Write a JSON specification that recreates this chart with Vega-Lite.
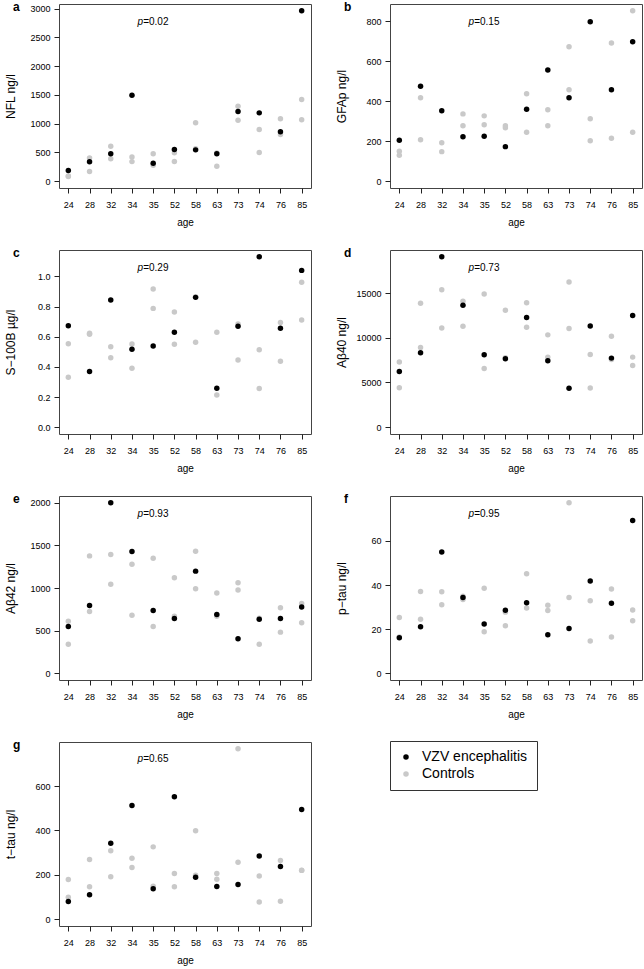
{
  "$schema": "https://vega.github.io/schema/vega-lite/v6.json",
  "padding": {"left": 3, "top": 0, "right": 0, "bottom": 0},
  "background": "white",
  "datasets": {
    "pts": [
      {"m":"a","age":"24","g":"Controls","v":80},{"m":"a","age":"24","g":"Controls","v":92},
      {"m":"a","age":"28","g":"Controls","v":405},{"m":"a","age":"28","g":"Controls","v":168},
      {"m":"a","age":"32","g":"Controls","v":608},{"m":"a","age":"32","g":"Controls","v":390},
      {"m":"a","age":"34","g":"Controls","v":420},{"m":"a","age":"34","g":"Controls","v":340},
      {"m":"a","age":"35","g":"Controls","v":475},{"m":"a","age":"35","g":"Controls","v":278},
      {"m":"a","age":"52","g":"Controls","v":492},{"m":"a","age":"52","g":"Controls","v":342},
      {"m":"a","age":"58","g":"Controls","v":1014},{"m":"a","age":"58","g":"Controls","v":562},
      {"m":"a","age":"63","g":"Controls","v":261},{"m":"a","age":"63","g":"Controls","v":492},
      {"m":"a","age":"73","g":"Controls","v":1303},{"m":"a","age":"73","g":"Controls","v":1060},
      {"m":"a","age":"74","g":"Controls","v":898},{"m":"a","age":"74","g":"Controls","v":498},
      {"m":"a","age":"76","g":"Controls","v":1083},{"m":"a","age":"76","g":"Controls","v":811},
      {"m":"a","age":"85","g":"Controls","v":1419},{"m":"a","age":"85","g":"Controls","v":1066},
      {"m":"a","age":"24","g":"VZV encephalitis","v":185},{"m":"a","age":"28","g":"VZV encephalitis","v":336},
      {"m":"a","age":"32","g":"VZV encephalitis","v":475},{"m":"a","age":"34","g":"VZV encephalitis","v":1494},
      {"m":"a","age":"35","g":"VZV encephalitis","v":313},{"m":"a","age":"52","g":"VZV encephalitis","v":550},
      {"m":"a","age":"58","g":"VZV encephalitis","v":544},{"m":"a","age":"63","g":"VZV encephalitis","v":475},
      {"m":"a","age":"73","g":"VZV encephalitis","v":1210},{"m":"a","age":"74","g":"VZV encephalitis","v":1187},
      {"m":"a","age":"76","g":"VZV encephalitis","v":857},{"m":"a","age":"85","g":"VZV encephalitis","v":2960},

      {"m":"b","age":"24","g":"Controls","v":150},{"m":"b","age":"24","g":"Controls","v":130},
      {"m":"b","age":"28","g":"Controls","v":418},{"m":"b","age":"28","g":"Controls","v":208},
      {"m":"b","age":"32","g":"Controls","v":192},{"m":"b","age":"32","g":"Controls","v":148},
      {"m":"b","age":"34","g":"Controls","v":337},{"m":"b","age":"34","g":"Controls","v":277},
      {"m":"b","age":"35","g":"Controls","v":327},{"m":"b","age":"35","g":"Controls","v":282},
      {"m":"b","age":"52","g":"Controls","v":267},{"m":"b","age":"52","g":"Controls","v":277},
      {"m":"b","age":"58","g":"Controls","v":438},{"m":"b","age":"58","g":"Controls","v":245},
      {"m":"b","age":"63","g":"Controls","v":358},{"m":"b","age":"63","g":"Controls","v":277},
      {"m":"b","age":"73","g":"Controls","v":673},{"m":"b","age":"73","g":"Controls","v":458},
      {"m":"b","age":"74","g":"Controls","v":313},{"m":"b","age":"74","g":"Controls","v":203},
      {"m":"b","age":"76","g":"Controls","v":692},{"m":"b","age":"76","g":"Controls","v":215},
      {"m":"b","age":"85","g":"Controls","v":853},{"m":"b","age":"85","g":"Controls","v":245},
      {"m":"b","age":"24","g":"VZV encephalitis","v":205},{"m":"b","age":"28","g":"VZV encephalitis","v":475},
      {"m":"b","age":"32","g":"VZV encephalitis","v":353},{"m":"b","age":"34","g":"VZV encephalitis","v":222},
      {"m":"b","age":"35","g":"VZV encephalitis","v":225},{"m":"b","age":"52","g":"VZV encephalitis","v":173},
      {"m":"b","age":"58","g":"VZV encephalitis","v":360},{"m":"b","age":"63","g":"VZV encephalitis","v":557},
      {"m":"b","age":"73","g":"VZV encephalitis","v":418},{"m":"b","age":"74","g":"VZV encephalitis","v":798},
      {"m":"b","age":"76","g":"VZV encephalitis","v":458},{"m":"b","age":"85","g":"VZV encephalitis","v":698},

      {"m":"c","age":"24","g":"Controls","v":0.554},{"m":"c","age":"24","g":"Controls","v":0.331},
      {"m":"c","age":"28","g":"Controls","v":0.616},{"m":"c","age":"28","g":"Controls","v":0.623},
      {"m":"c","age":"32","g":"Controls","v":0.534},{"m":"c","age":"32","g":"Controls","v":0.461},
      {"m":"c","age":"34","g":"Controls","v":0.552},{"m":"c","age":"34","g":"Controls","v":0.391},
      {"m":"c","age":"35","g":"Controls","v":0.916},{"m":"c","age":"35","g":"Controls","v":0.788},
      {"m":"c","age":"52","g":"Controls","v":0.764},{"m":"c","age":"52","g":"Controls","v":0.550},
      {"m":"c","age":"58","g":"Controls","v":0.563},{"m":"c","age":"58","g":"Controls","v":0.865},
      {"m":"c","age":"63","g":"Controls","v":0.629},{"m":"c","age":"63","g":"Controls","v":0.214},
      {"m":"c","age":"73","g":"Controls","v":0.446},{"m":"c","age":"73","g":"Controls","v":0.684},
      {"m":"c","age":"74","g":"Controls","v":0.514},{"m":"c","age":"74","g":"Controls","v":0.256},
      {"m":"c","age":"76","g":"Controls","v":0.695},{"m":"c","age":"76","g":"Controls","v":0.437},
      {"m":"c","age":"85","g":"Controls","v":0.962},{"m":"c","age":"85","g":"Controls","v":0.711},
      {"m":"c","age":"24","g":"VZV encephalitis","v":0.673},{"m":"c","age":"28","g":"VZV encephalitis","v":0.369},
      {"m":"c","age":"32","g":"VZV encephalitis","v":0.843},{"m":"c","age":"34","g":"VZV encephalitis","v":0.517},
      {"m":"c","age":"35","g":"VZV encephalitis","v":0.539},{"m":"c","age":"52","g":"VZV encephalitis","v":0.629},
      {"m":"c","age":"58","g":"VZV encephalitis","v":0.861},{"m":"c","age":"63","g":"VZV encephalitis","v":0.258},
      {"m":"c","age":"73","g":"VZV encephalitis","v":0.669},{"m":"c","age":"74","g":"VZV encephalitis","v":1.13},
      {"m":"c","age":"76","g":"VZV encephalitis","v":0.656},{"m":"c","age":"85","g":"VZV encephalitis","v":1.04},

      {"m":"d","age":"24","g":"Controls","v":7277},{"m":"d","age":"24","g":"Controls","v":4418},
      {"m":"d","age":"28","g":"Controls","v":13850},{"m":"d","age":"28","g":"Controls","v":8911},
      {"m":"d","age":"32","g":"Controls","v":15372},{"m":"d","age":"32","g":"Controls","v":11102},
      {"m":"d","age":"34","g":"Controls","v":14072},{"m":"d","age":"34","g":"Controls","v":11288},
      {"m":"d","age":"35","g":"Controls","v":14889},{"m":"d","age":"35","g":"Controls","v":6572},
      {"m":"d","age":"52","g":"Controls","v":13070},{"m":"d","age":"52","g":"Controls","v":7760},
      {"m":"d","age":"58","g":"Controls","v":13924},{"m":"d","age":"58","g":"Controls","v":11176},
      {"m":"d","age":"63","g":"Controls","v":10322},{"m":"d","age":"63","g":"Controls","v":7834},
      {"m":"d","age":"73","g":"Controls","v":16226},{"m":"d","age":"73","g":"Controls","v":11028},
      {"m":"d","age":"74","g":"Controls","v":8131},{"m":"d","age":"74","g":"Controls","v":4381},
      {"m":"d","age":"76","g":"Controls","v":10174},{"m":"d","age":"76","g":"Controls","v":7574},
      {"m":"d","age":"85","g":"Controls","v":7834},{"m":"d","age":"85","g":"Controls","v":6906},
      {"m":"d","age":"24","g":"VZV encephalitis","v":6238},{"m":"d","age":"28","g":"VZV encephalitis","v":8317},
      {"m":"d","age":"32","g":"VZV encephalitis","v":19050},{"m":"d","age":"34","g":"VZV encephalitis","v":13627},
      {"m":"d","age":"35","g":"VZV encephalitis","v":8094},{"m":"d","age":"52","g":"VZV encephalitis","v":7649},
      {"m":"d","age":"58","g":"VZV encephalitis","v":12253},{"m":"d","age":"63","g":"VZV encephalitis","v":7426},
      {"m":"d","age":"73","g":"VZV encephalitis","v":4344},{"m":"d","age":"74","g":"VZV encephalitis","v":11325},
      {"m":"d","age":"76","g":"VZV encephalitis","v":7723},{"m":"d","age":"85","g":"VZV encephalitis","v":12476},

      {"m":"e","age":"24","g":"Controls","v":611},{"m":"e","age":"24","g":"Controls","v":339},
      {"m":"e","age":"28","g":"Controls","v":1377},{"m":"e","age":"28","g":"Controls","v":724},
      {"m":"e","age":"32","g":"Controls","v":1393},{"m":"e","age":"32","g":"Controls","v":1043},
      {"m":"e","age":"34","g":"Controls","v":1280},{"m":"e","age":"34","g":"Controls","v":681},
      {"m":"e","age":"35","g":"Controls","v":1350},{"m":"e","age":"35","g":"Controls","v":549},
      {"m":"e","age":"52","g":"Controls","v":1121},{"m":"e","age":"52","g":"Controls","v":669},
      {"m":"e","age":"58","g":"Controls","v":1432},{"m":"e","age":"58","g":"Controls","v":992},
      {"m":"e","age":"63","g":"Controls","v":942},{"m":"e","age":"63","g":"Controls","v":669},
      {"m":"e","age":"73","g":"Controls","v":1062},{"m":"e","age":"73","g":"Controls","v":977},
      {"m":"e","age":"74","g":"Controls","v":339},{"m":"e","age":"74","g":"Controls","v":646},
      {"m":"e","age":"76","g":"Controls","v":767},{"m":"e","age":"76","g":"Controls","v":482},
      {"m":"e","age":"85","g":"Controls","v":817},{"m":"e","age":"85","g":"Controls","v":591},
      {"m":"e","age":"24","g":"VZV encephalitis","v":549},{"m":"e","age":"28","g":"VZV encephalitis","v":794},
      {"m":"e","age":"32","g":"VZV encephalitis","v":2000},{"m":"e","age":"34","g":"VZV encephalitis","v":1428},
      {"m":"e","age":"35","g":"VZV encephalitis","v":735},{"m":"e","age":"52","g":"VZV encephalitis","v":642},
      {"m":"e","age":"58","g":"VZV encephalitis","v":1198},{"m":"e","age":"63","g":"VZV encephalitis","v":689},
      {"m":"e","age":"73","g":"VZV encephalitis","v":405},{"m":"e","age":"74","g":"VZV encephalitis","v":634},
      {"m":"e","age":"76","g":"VZV encephalitis","v":642},{"m":"e","age":"85","g":"VZV encephalitis","v":778},

      {"m":"f","age":"24","g":"Controls","v":25.3},{"m":"f","age":"24","g":"Controls","v":16.4},
      {"m":"f","age":"28","g":"Controls","v":37.1},{"m":"f","age":"28","g":"Controls","v":24.5},
      {"m":"f","age":"32","g":"Controls","v":37.0},{"m":"f","age":"32","g":"Controls","v":31.1},
      {"m":"f","age":"34","g":"Controls","v":34.9},{"m":"f","age":"34","g":"Controls","v":33.4},
      {"m":"f","age":"35","g":"Controls","v":38.5},{"m":"f","age":"35","g":"Controls","v":18.8},
      {"m":"f","age":"52","g":"Controls","v":27.7},{"m":"f","age":"52","g":"Controls","v":21.5},
      {"m":"f","age":"58","g":"Controls","v":45.1},{"m":"f","age":"58","g":"Controls","v":29.6},
      {"m":"f","age":"63","g":"Controls","v":30.8},{"m":"f","age":"63","g":"Controls","v":28.4},
      {"m":"f","age":"73","g":"Controls","v":77.3},{"m":"f","age":"73","g":"Controls","v":34.3},
      {"m":"f","age":"74","g":"Controls","v":32.9},{"m":"f","age":"74","g":"Controls","v":14.6},
      {"m":"f","age":"76","g":"Controls","v":38.2},{"m":"f","age":"76","g":"Controls","v":16.4},
      {"m":"f","age":"85","g":"Controls","v":28.7},{"m":"f","age":"85","g":"Controls","v":23.8},
      {"m":"f","age":"24","g":"VZV encephalitis","v":16.1},{"m":"f","age":"28","g":"VZV encephalitis","v":21.1},
      {"m":"f","age":"32","g":"VZV encephalitis","v":55.0},{"m":"f","age":"34","g":"VZV encephalitis","v":34.3},
      {"m":"f","age":"35","g":"VZV encephalitis","v":22.3},{"m":"f","age":"52","g":"VZV encephalitis","v":28.6},
      {"m":"f","age":"58","g":"VZV encephalitis","v":32.0},{"m":"f","age":"63","g":"VZV encephalitis","v":17.4},
      {"m":"f","age":"73","g":"VZV encephalitis","v":20.3},{"m":"f","age":"74","g":"VZV encephalitis","v":41.8},
      {"m":"f","age":"76","g":"VZV encephalitis","v":31.7},{"m":"f","age":"85","g":"VZV encephalitis","v":69.3},

      {"m":"g","age":"24","g":"Controls","v":179},{"m":"g","age":"24","g":"Controls","v":99},
      {"m":"g","age":"28","g":"Controls","v":269},{"m":"g","age":"28","g":"Controls","v":146},
      {"m":"g","age":"32","g":"Controls","v":308},{"m":"g","age":"32","g":"Controls","v":191},
      {"m":"g","age":"34","g":"Controls","v":275},{"m":"g","age":"34","g":"Controls","v":233},
      {"m":"g","age":"35","g":"Controls","v":326},{"m":"g","age":"35","g":"Controls","v":149},
      {"m":"g","age":"52","g":"Controls","v":206},{"m":"g","age":"52","g":"Controls","v":146},
      {"m":"g","age":"58","g":"Controls","v":399},{"m":"g","age":"58","g":"Controls","v":198},
      {"m":"g","age":"63","g":"Controls","v":206},{"m":"g","age":"63","g":"Controls","v":180},
      {"m":"g","age":"73","g":"Controls","v":768},{"m":"g","age":"73","g":"Controls","v":257},
      {"m":"g","age":"74","g":"Controls","v":195},{"m":"g","age":"74","g":"Controls","v":77},
      {"m":"g","age":"76","g":"Controls","v":265},{"m":"g","age":"76","g":"Controls","v":81},
      {"m":"g","age":"85","g":"Controls","v":220},{"m":"g","age":"85","g":"Controls","v":221},
      {"m":"g","age":"24","g":"VZV encephalitis","v":80},{"m":"g","age":"28","g":"VZV encephalitis","v":110},
      {"m":"g","age":"32","g":"VZV encephalitis","v":342},{"m":"g","age":"34","g":"VZV encephalitis","v":512},
      {"m":"g","age":"35","g":"VZV encephalitis","v":137},{"m":"g","age":"52","g":"VZV encephalitis","v":552},
      {"m":"g","age":"58","g":"VZV encephalitis","v":189},{"m":"g","age":"63","g":"VZV encephalitis","v":147},
      {"m":"g","age":"73","g":"VZV encephalitis","v":156},{"m":"g","age":"74","g":"VZV encephalitis","v":285},
      {"m":"g","age":"76","g":"VZV encephalitis","v":237},{"m":"g","age":"85","g":"VZV encephalitis","v":494}
    ],
    "ann": [
      {"m":"a","px":"35","py":2774,"p":"=0.02"},
      {"m":"b","px":"35","py":799,"p":"=0.15"},
      {"m":"c","px":"35","py":1.059,"p":"=0.29"},
      {"m":"d","px":"35","py":17850,"p":"=0.73"},
      {"m":"e","px":"35","py":1874,"p":"=0.93"},
      {"m":"f","px":"35","py":72.4,"p":"=0.95"},
      {"m":"g","px":"35","py":720,"p":"=0.65"}
    ]
  },
  "columns": 2,
  "spacing": {"row": 18, "column": 22},
  "concat": [
    {
      "width": 252, "height": 184,
      "title": {"text": "a"},
      "layer": [
        {"data": {"name": "pts"}, "transform": [{"filter": "datum.m == 'a'"}],
         "mark": {"type": "point", "filled": true, "size": 30, "opacity": 1, "strokeWidth": 0},
         "encoding": {
           "x": {"field": "age", "type": "ordinal", "scale": {"type": "point", "padding": 0.44, "domain": ["24","28","32","34","35","52","58","63","73","74","76","85"]}, "axis": {"title": "age"}},
           "y": {"field": "v", "type": "quantitative", "scale": {"domain": [-118.4, 3078.4], "nice": false, "zero": false}, "axis": {"title": "NFL ng/l", "values": [0,500,1000,1500,2000,2500,3000], "format": "d", "tickCount": 20}},
           "color": {"field": "g", "type": "nominal", "scale": {"domain": ["VZV encephalitis","Controls"], "range": ["#000000","#c9c9c9"]},
             "legend": {"orient": "none", "legendX": 331, "legendY": 737, "title": null, "strokeColor": "#333333", "padding": 9, "labelFontSize": 14, "symbolSize": 30, "rowPadding": 3, "symbolType": "circle", "fillColor": "white", "labelOffset": 9, "symbolStrokeWidth": 0}}
         }},
        {"data": {"name": "ann"}, "transform": [{"filter": "datum.m == 'a'"}],
         "mark": {"type": "text", "text": "p", "fontStyle": "italic", "align": "right", "dx": -10, "fontSize": 10, "baseline": "middle"},
         "encoding": {"x": {"field": "px", "type": "ordinal"}, "y": {"field": "py", "type": "quantitative", "scale": {"domain": [-118.4, 3078.4], "nice": false, "zero": false}}}},
        {"data": {"name": "ann"}, "transform": [{"filter": "datum.m == 'a'"}],
         "mark": {"type": "text", "align": "left", "dx": -10, "fontSize": 10, "baseline": "middle"},
         "encoding": {"text": {"field": "p"}, "x": {"field": "px", "type": "ordinal"}, "y": {"field": "py", "type": "quantitative", "scale": {"domain": [-118.4, 3078.4], "nice": false, "zero": false}}}}
      ]
    },
    {
      "width": 252, "height": 184,
      "title": {"text": "b"},
      "layer": [
        {"data": {"name": "pts"}, "transform": [{"filter": "datum.m == 'b'"}],
         "mark": {"type": "point", "filled": true, "size": 30, "opacity": 1, "strokeWidth": 0},
         "encoding": {
           "x": {"field": "age", "type": "ordinal", "scale": {"type": "point", "padding": 0.44, "domain": ["24","28","32","34","35","52","58","63","73","74","76","85"]}, "axis": {"title": "age"}},
           "y": {"field": "v", "type": "quantitative", "scale": {"domain": [-34.1, 887.1], "nice": false, "zero": false}, "axis": {"title": "GFAp ng/l", "values": [0,200,400,600,800], "format": "d", "tickCount": 20}},
           "color": {"field": "g", "type": "nominal", "scale": {"domain": ["VZV encephalitis","Controls"], "range": ["#000000","#c9c9c9"]}}
         }},
        {"data": {"name": "ann"}, "transform": [{"filter": "datum.m == 'b'"}],
         "mark": {"type": "text", "text": "p", "fontStyle": "italic", "align": "right", "dx": -10, "fontSize": 10, "baseline": "middle"},
         "encoding": {"x": {"field": "px", "type": "ordinal"}, "y": {"field": "py", "type": "quantitative", "scale": {"domain": [-34.1, 887.1], "nice": false, "zero": false}}}},
        {"data": {"name": "ann"}, "transform": [{"filter": "datum.m == 'b'"}],
         "mark": {"type": "text", "align": "left", "dx": -10, "fontSize": 10, "baseline": "middle"},
         "encoding": {"text": {"field": "p"}, "x": {"field": "px", "type": "ordinal"}, "y": {"field": "py", "type": "quantitative", "scale": {"domain": [-34.1, 887.1], "nice": false, "zero": false}}}}
      ]
    },
    {
      "width": 252, "height": 184,
      "title": {"text": "c"},
      "layer": [
        {"data": {"name": "pts"}, "transform": [{"filter": "datum.m == 'c'"}],
         "mark": {"type": "point", "filled": true, "size": 30, "opacity": 1, "strokeWidth": 0},
         "encoding": {
           "x": {"field": "age", "type": "ordinal", "scale": {"type": "point", "padding": 0.44, "domain": ["24","28","32","34","35","52","58","63","73","74","76","85"]}, "axis": {"title": "age"}},
           "y": {"field": "v", "type": "quantitative", "scale": {"domain": [-0.0452, 1.1752], "nice": false, "zero": false}, "axis": {"title": "S−100B µg/l", "values": [0,0.2,0.4,0.6,0.8,1.0], "format": ".1f", "tickCount": 20}},
           "color": {"field": "g", "type": "nominal", "scale": {"domain": ["VZV encephalitis","Controls"], "range": ["#000000","#c9c9c9"]}}
         }},
        {"data": {"name": "ann"}, "transform": [{"filter": "datum.m == 'c'"}],
         "mark": {"type": "text", "text": "p", "fontStyle": "italic", "align": "right", "dx": -10, "fontSize": 10, "baseline": "middle"},
         "encoding": {"x": {"field": "px", "type": "ordinal"}, "y": {"field": "py", "type": "quantitative", "scale": {"domain": [-0.0452, 1.1752], "nice": false, "zero": false}}}},
        {"data": {"name": "ann"}, "transform": [{"filter": "datum.m == 'c'"}],
         "mark": {"type": "text", "align": "left", "dx": -10, "fontSize": 10, "baseline": "middle"},
         "encoding": {"text": {"field": "p"}, "x": {"field": "px", "type": "ordinal"}, "y": {"field": "py", "type": "quantitative", "scale": {"domain": [-0.0452, 1.1752], "nice": false, "zero": false}}}}
      ]
    },
    {
      "width": 252, "height": 184,
      "title": {"text": "d"},
      "layer": [
        {"data": {"name": "pts"}, "transform": [{"filter": "datum.m == 'd'"}],
         "mark": {"type": "point", "filled": true, "size": 30, "opacity": 1, "strokeWidth": 0},
         "encoding": {
           "x": {"field": "age", "type": "ordinal", "scale": {"type": "point", "padding": 0.44, "domain": ["24","28","32","34","35","52","58","63","73","74","76","85"]}, "axis": {"title": "age"}},
           "y": {"field": "v", "type": "quantitative", "scale": {"domain": [-762, 19812], "nice": false, "zero": false}, "axis": {"title": "Aβ40 ng/l", "values": [0,5000,10000,15000], "format": "d", "tickCount": 20}},
           "color": {"field": "g", "type": "nominal", "scale": {"domain": ["VZV encephalitis","Controls"], "range": ["#000000","#c9c9c9"]}}
         }},
        {"data": {"name": "ann"}, "transform": [{"filter": "datum.m == 'd'"}],
         "mark": {"type": "text", "text": "p", "fontStyle": "italic", "align": "right", "dx": -10, "fontSize": 10, "baseline": "middle"},
         "encoding": {"x": {"field": "px", "type": "ordinal"}, "y": {"field": "py", "type": "quantitative", "scale": {"domain": [-762, 19812], "nice": false, "zero": false}}}},
        {"data": {"name": "ann"}, "transform": [{"filter": "datum.m == 'd'"}],
         "mark": {"type": "text", "align": "left", "dx": -10, "fontSize": 10, "baseline": "middle"},
         "encoding": {"text": {"field": "p"}, "x": {"field": "px", "type": "ordinal"}, "y": {"field": "py", "type": "quantitative", "scale": {"domain": [-762, 19812], "nice": false, "zero": false}}}}
      ]
    },
    {
      "width": 252, "height": 184,
      "title": {"text": "e"},
      "layer": [
        {"data": {"name": "pts"}, "transform": [{"filter": "datum.m == 'e'"}],
         "mark": {"type": "point", "filled": true, "size": 30, "opacity": 1, "strokeWidth": 0},
         "encoding": {
           "x": {"field": "age", "type": "ordinal", "scale": {"type": "point", "padding": 0.44, "domain": ["24","28","32","34","35","52","58","63","73","74","76","85"]}, "axis": {"title": "age"}},
           "y": {"field": "v", "type": "quantitative", "scale": {"domain": [-80, 2080], "nice": false, "zero": false}, "axis": {"title": "Aβ42 ng/l", "values": [0,500,1000,1500,2000], "format": "d", "tickCount": 20}},
           "color": {"field": "g", "type": "nominal", "scale": {"domain": ["VZV encephalitis","Controls"], "range": ["#000000","#c9c9c9"]}}
         }},
        {"data": {"name": "ann"}, "transform": [{"filter": "datum.m == 'e'"}],
         "mark": {"type": "text", "text": "p", "fontStyle": "italic", "align": "right", "dx": -10, "fontSize": 10, "baseline": "middle"},
         "encoding": {"x": {"field": "px", "type": "ordinal"}, "y": {"field": "py", "type": "quantitative", "scale": {"domain": [-80, 2080], "nice": false, "zero": false}}}},
        {"data": {"name": "ann"}, "transform": [{"filter": "datum.m == 'e'"}],
         "mark": {"type": "text", "align": "left", "dx": -10, "fontSize": 10, "baseline": "middle"},
         "encoding": {"text": {"field": "p"}, "x": {"field": "px", "type": "ordinal"}, "y": {"field": "py", "type": "quantitative", "scale": {"domain": [-80, 2080], "nice": false, "zero": false}}}}
      ]
    },
    {
      "width": 252, "height": 184,
      "title": {"text": "f"},
      "layer": [
        {"data": {"name": "pts"}, "transform": [{"filter": "datum.m == 'f'"}],
         "mark": {"type": "point", "filled": true, "size": 30, "opacity": 1, "strokeWidth": 0},
         "encoding": {
           "x": {"field": "age", "type": "ordinal", "scale": {"type": "point", "padding": 0.44, "domain": ["24","28","32","34","35","52","58","63","73","74","76","85"]}, "axis": {"title": "age"}},
           "y": {"field": "v", "type": "quantitative", "scale": {"domain": [-3.09, 80.39], "nice": false, "zero": false}, "axis": {"title": "p−tau ng/l", "values": [0,20,40,60], "format": "d", "tickCount": 20}},
           "color": {"field": "g", "type": "nominal", "scale": {"domain": ["VZV encephalitis","Controls"], "range": ["#000000","#c9c9c9"]}}
         }},
        {"data": {"name": "ann"}, "transform": [{"filter": "datum.m == 'f'"}],
         "mark": {"type": "text", "text": "p", "fontStyle": "italic", "align": "right", "dx": -10, "fontSize": 10, "baseline": "middle"},
         "encoding": {"x": {"field": "px", "type": "ordinal"}, "y": {"field": "py", "type": "quantitative", "scale": {"domain": [-3.09, 80.39], "nice": false, "zero": false}}}},
        {"data": {"name": "ann"}, "transform": [{"filter": "datum.m == 'f'"}],
         "mark": {"type": "text", "align": "left", "dx": -10, "fontSize": 10, "baseline": "middle"},
         "encoding": {"text": {"field": "p"}, "x": {"field": "px", "type": "ordinal"}, "y": {"field": "py", "type": "quantitative", "scale": {"domain": [-3.09, 80.39], "nice": false, "zero": false}}}}
      ]
    },
    {
      "width": 252, "height": 184,
      "title": {"text": "g"},
      "layer": [
        {"data": {"name": "pts"}, "transform": [{"filter": "datum.m == 'g'"}],
         "mark": {"type": "point", "filled": true, "size": 30, "opacity": 1, "strokeWidth": 0},
         "encoding": {
           "x": {"field": "age", "type": "ordinal", "scale": {"type": "point", "padding": 0.44, "domain": ["24","28","32","34","35","52","58","63","73","74","76","85"]}, "axis": {"title": "age"}},
           "y": {"field": "v", "type": "quantitative", "scale": {"domain": [-30.72, 798.72], "nice": false, "zero": false}, "axis": {"title": "t−tau ng/l", "values": [0,200,400,600], "format": "d", "tickCount": 20}},
           "color": {"field": "g", "type": "nominal", "scale": {"domain": ["VZV encephalitis","Controls"], "range": ["#000000","#c9c9c9"]}}
         }},
        {"data": {"name": "ann"}, "transform": [{"filter": "datum.m == 'g'"}],
         "mark": {"type": "text", "text": "p", "fontStyle": "italic", "align": "right", "dx": -10, "fontSize": 10, "baseline": "middle"},
         "encoding": {"x": {"field": "px", "type": "ordinal"}, "y": {"field": "py", "type": "quantitative", "scale": {"domain": [-30.72, 798.72], "nice": false, "zero": false}}}},
        {"data": {"name": "ann"}, "transform": [{"filter": "datum.m == 'g'"}],
         "mark": {"type": "text", "align": "left", "dx": -10, "fontSize": 10, "baseline": "middle"},
         "encoding": {"text": {"field": "p"}, "x": {"field": "px", "type": "ordinal"}, "y": {"field": "py", "type": "quantitative", "scale": {"domain": [-30.72, 798.72], "nice": false, "zero": false}}}}
      ]
    }
  ],
  "config": {
    "font": "Liberation Sans",
    "view": {"stroke": "#444444", "strokeWidth": 1},
    "text": {"color": "#000000", "font": "Liberation Sans"},
    "title": {"fontSize": 12, "fontWeight": "bold", "anchor": "start", "frame": "bounds", "offset": -10, "dx": 9, "font": "Liberation Sans", "color": "#000000"},
    "axis": {"grid": false, "domain": false, "tickColor": "#222222", "tickSize": 5, "labelFontSize": 9, "labelColor": "#000000", "titleColor": "#000000", "titleFontWeight": "normal", "labelFont": "Liberation Sans", "titleFont": "Liberation Sans", "labelOverlap": false},
    "axisX": {"labelAngle": 0, "labelPadding": 7, "titleFontSize": 10, "titlePadding": 8},
    "axisY": {"labelPadding": 4, "titleFontSize": 12, "titleX": -49, "titleY": 92, "titleAlign": "center", "titleBaseline": "middle", "titleAngle": -90},
    "legend": {"labelFont": "Liberation Sans", "labelColor": "#000000"}
  }
}
